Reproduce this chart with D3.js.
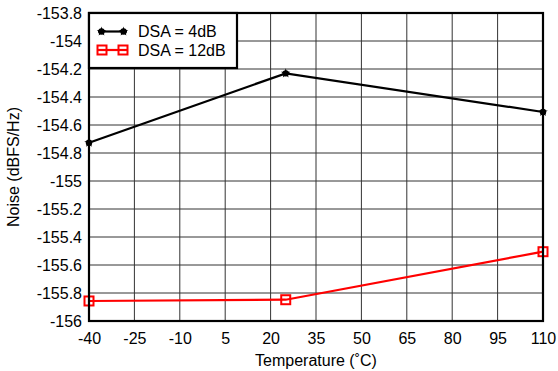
<!DOCTYPE html>
<html>
<head>
<meta charset="utf-8">
<script src="https://cdn.jsdelivr.net/npm/d3@7"></script>
<style>
html,body{margin:0;padding:0;background:#fff;}
svg{display:block;font-family:"Liberation Sans",Arial,Helvetica,sans-serif;}
</style>
</head>
<body>
<svg id="chart" width="558" height="371"></svg>
<script>
const temperatures = [-40, 25, 110];
const dsa4dB = [-154.727, -154.231, -154.507];
const dsa12dB = [-155.857, -155.848, -155.505];
const seriesNames = ["DSA = 4dB", "DSA = 12dB"];
const xTicks = [-40, -25, -10, 5, 20, 35, 50, 65, 80, 95, 110];
const yTicks = [-153.8, -154, -154.2, -154.4, -154.6, -154.8, -155, -155.2, -155.4, -155.6, -155.8, -156];
const xLabel = "Temperature (\u02DAC)";
const yLabel = "Noise (dBFS/Hz)";

const svg = d3.select("#chart");
const L = 89, R = 543, T = 13, B = 321;
const x = d3.scaleLinear().domain([-40, 110]).range([L, R]);
const y = d3.scaleLinear().domain([-156, -153.8]).range([B, T]);

const fmt = d => String(+d.toFixed(1)).replace("\u2212", "-");

// grid
const g = svg.append("g");
g.selectAll(".vg").data(xTicks).join("line")
  .attr("x1", d => x(d)).attr("x2", d => x(d))
  .attr("y1", T).attr("y2", B)
  .attr("stroke", "#333").attr("stroke-width", 1);
g.selectAll(".hg").data(yTicks).join("line")
  .attr("x1", L).attr("x2", R)
  .attr("y1", d => y(d)).attr("y2", d => y(d))
  .attr("stroke", "#333").attr("stroke-width", 1);

// axes
const xAxis = d3.axisBottom(x).tickValues(xTicks).tickSize(0).tickPadding(12).tickFormat(d => String(d));
const xa = svg.append("g").attr("transform", `translate(0,${B})`).call(xAxis);
xa.select(".domain").remove();
xa.selectAll("text").attr("font-size", 16).attr("fill", "#000").attr("font-family", "Liberation Sans, Arial, sans-serif");

const yAxis = d3.axisLeft(y).tickValues(yTicks).tickSize(0).tickPadding(7).tickFormat(fmt);
const ya = svg.append("g").attr("transform", `translate(${L},0)`).call(yAxis);
ya.select(".domain").remove();
ya.selectAll("text").attr("font-size", 16).attr("fill", "#000").attr("font-family", "Liberation Sans, Arial, sans-serif");

// axis labels
svg.append("text").attr("x", (L + R) / 2).attr("y", 366)
  .attr("text-anchor", "middle").attr("font-size", 16).text(xLabel);
svg.append("text").attr("transform", `translate(19,${(T + B) / 2}) rotate(-90)`)
  .attr("text-anchor", "middle").attr("font-size", 16).text(yLabel);

// series
const line = d3.line().x(d => x(d[0])).y(d => y(d[1]));
const s1 = temperatures.map((t, i) => [t, dsa4dB[i]]);
const s2 = temperatures.map((t, i) => [t, dsa12dB[i]]);

svg.append("path").datum(s1).attr("d", line).attr("fill", "none").attr("stroke", "#000").attr("stroke-width", 2.2);
svg.append("path").datum(s2).attr("d", line).attr("fill", "none").attr("stroke", "#f00").attr("stroke-width", 2.2);

const star = d3.symbol().type(d3.symbolStar).size(28);
function blackMarker(sel, cx, cy) {
  sel.append("path").attr("d", star).attr("transform", `translate(${cx},${cy})`).attr("fill", "#000");
  sel.append("circle").attr("cx", cx).attr("cy", cy).attr("r", 3.2).attr("fill", "#000");
}
function redMarker(sel, cx, cy) {
  sel.append("rect").attr("x", cx - 4.5).attr("y", cy - 4.5).attr("width", 9).attr("height", 9)
    .attr("fill", "none").attr("stroke", "#f00").attr("stroke-width", 2);
}
const m = svg.append("g");
s1.forEach(d => blackMarker(m, x(d[0]), y(d[1])));
s2.forEach(d => redMarker(m, x(d[0]), y(d[1])));

// frame
svg.append("rect").attr("x", L).attr("y", T).attr("width", R - L).attr("height", B - T)
  .attr("fill", "none").attr("stroke", "#000").attr("stroke-width", 2.2);

// legend
const lg = svg.append("g");
lg.append("rect").attr("x", L).attr("y", T).attr("width", 148).attr("height", 55)
  .attr("fill", "#fff").attr("stroke", "#000").attr("stroke-width", 2.2);
const rows = [31.5, 50];
lg.append("line").attr("x1", 98).attr("x2", 127).attr("y1", rows[0]).attr("y2", rows[0]).attr("stroke", "#000").attr("stroke-width", 2.2);
blackMarker(lg, 101.5, rows[0]);
blackMarker(lg, 123.5, rows[0]);
lg.append("line").attr("x1", 98).attr("x2", 127).attr("y1", rows[1]).attr("y2", rows[1]).attr("stroke", "#f00").attr("stroke-width", 2.2);
redMarker(lg, 102, rows[1]);
redMarker(lg, 123, rows[1]);
seriesNames.forEach((n, i) => {
  lg.append("text").attr("x", 138).attr("y", rows[i]).attr("dy", "0.36em")
    .attr("font-size", 16).text(n);
});
</script>
</body>
</html>
